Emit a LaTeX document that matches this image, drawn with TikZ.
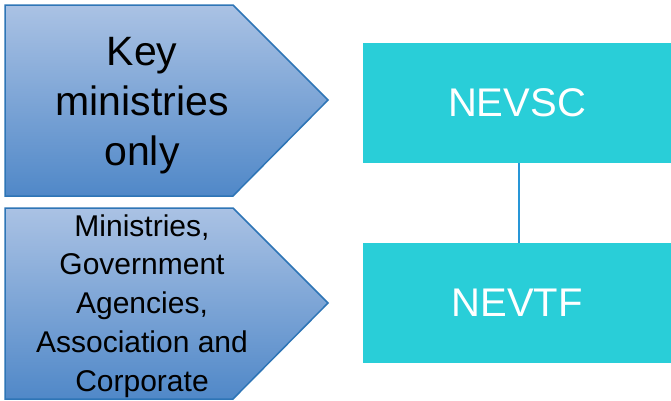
\documentclass[tikz,border=0pt]{standalone}
\usepackage{fontspec}
\setmainfont{Liberation Sans}
\begin{document}
\begin{tikzpicture}[x=1pt,y=-1pt,
  arrowshape/.style={draw=arrowborder,line width=1.5pt,top color=arrowtop,bottom color=arrowbottom,shading angle=0},
  tealbox/.style={fill=boxteal,draw=none,minimum width=308pt,minimum height=120pt,inner sep=0pt,text=white,font=\fontsize{40}{48}\selectfont},
  arrowtext/.style={align=center,text=black,inner sep=0pt}]
\definecolor{arrowtop}{RGB}{170,194,228}
\definecolor{arrowbottom}{RGB}{80,136,200}
\definecolor{arrowborder}{RGB}{46,117,182}
\definecolor{boxteal}{RGB}{41,206,216}
\definecolor{linkblue}{RGB}{40,150,215}
\useasboundingbox (0,0) rectangle (671,400);
\fill[white] (0,0) rectangle (671,400);
% arrows
\draw[arrowshape] (5,5) -- (233,5) -- (328,100) -- (233,196) -- (5,196) -- cycle;
\draw[arrowshape] (5,208) -- (233,208) -- (328,303) -- (233,399) -- (5,399) -- cycle;
\node[arrowtext,font=\fontsize{41}{50}\selectfont] (keytext) at (142,106) {Key\\ministries\\only};
\node[arrowtext,font=\fontsize{30}{38.8}\selectfont] (mintext) at (142,306) {Ministries,\\Government\\Agencies,\\Association and\\Corporate};
% boxes
\node[tealbox] (nevsc) at (517,103) {NEVSC};
\node[tealbox] (nevtf) at (517,303) {NEVTF};
\path (nevsc.south) ++(2,0) coordinate (lt) (nevtf.north) ++(2,0) coordinate (lb);
\draw[linkblue,line width=1.2pt] (lt) -- (lb);
\end{tikzpicture}
\end{document}
